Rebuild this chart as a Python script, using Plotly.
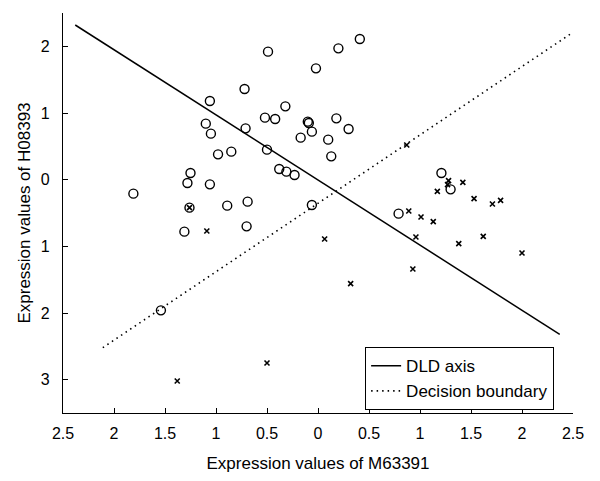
import plotly.graph_objects as go

# Class 1 samples (circles)
circle_x = [-0.49, -0.02, -0.72, -1.06, -0.32, -0.52, -0.42, -0.10, -0.09, -1.10,
            -0.06, -1.05, -0.71, -0.17, 0.10, -0.50, -0.98, -0.85, 0.13, -0.38,
            -0.31, -0.23, -1.25, -1.28, -1.06, -1.81, -1.26, -0.89, -0.69, -0.06,
            -1.31, -0.70, -1.54, 0.41, 0.20, 0.18, 0.30, 1.21, 1.30, 0.79]
circle_y = [1.92, 1.67, 1.36, 1.18, 1.10, 0.93, 0.91, 0.87, 0.85, 0.84,
            0.72, 0.69, 0.77, 0.63, 0.60, 0.45, 0.38, 0.42, 0.35, 0.16,
            0.12, 0.07, 0.10, -0.05, -0.07, -0.21, -0.42, -0.39, -0.33, -0.38,
            -0.78, -0.70, -1.96, 2.11, 1.97, 0.92, 0.76, 0.10, -0.145, -0.51]

# Class 2 samples (crosses)
cross_x = [-1.26, -1.09, 0.065, -0.50, -1.38, 0.87, 1.28, 1.27, 1.42, 1.17,
           1.53, 1.71, 1.79, 0.89, 1.01, 1.13, 0.96, 1.38, 1.62, 2.00,
           0.93, 0.32]
cross_y = [-0.42, -0.77, -0.89, -2.75, -3.02, 0.52, -0.015, -0.075, -0.04, -0.175,
           -0.285, -0.365, -0.31, -0.47, -0.56, -0.63, -0.86, -0.96, -0.85, -1.10,
           -1.34, -1.56]

# Lines
dld_x = [-2.38, 2.37]
dld_y = [2.32, -2.32]
boundary_x = [-2.11, 2.49]
boundary_y = [-2.52, 2.20]

x_ticks = [-2.5, -2, -1.5, -1, -0.5, 0, 0.5, 1, 1.5, 2, 2.5]
x_labels = ["2.5", "2", "1.5", "1", "0.5", "0", "0.5", "1", "1.5", "2", "2.5"]
y_ticks = [-3, -2, -1, 0, 1, 2]
y_labels = ["3", "2", "1", "0", "1", "2"]

FONT = "Liberation Sans, Arial, Helvetica, sans-serif"

fig = go.Figure()
fig.add_trace(go.Scatter(x=circle_x, y=circle_y, mode="markers", showlegend=False,
                         marker=dict(symbol="circle-open", size=9, color="black",
                                     line=dict(width=1.4, color="black"))))
fig.add_trace(go.Scatter(x=cross_x, y=cross_y, mode="markers", showlegend=False,
                         marker=dict(symbol="x-thin-open", size=5, color="black",
                                     line=dict(width=1.6, color="black"))))
fig.add_trace(go.Scatter(x=dld_x, y=dld_y, mode="lines", name="DLD axis",
                         line=dict(color="black", width=1.5)))
fig.add_trace(go.Scatter(x=boundary_x, y=boundary_y, mode="lines", name="Decision boundary",
                         line=dict(color="black", width=1.6, dash="1.5px,4px")))

fig.update_layout(
    width=600, height=481,
    margin=dict(l=63, r=27, t=13, b=68),
    plot_bgcolor="white", paper_bgcolor="white",
    font=dict(family=FONT, size=16, color="black"),
    legend=dict(x=0.592, y=0.165, xanchor="left", yanchor="top",
                bordercolor="black", borderwidth=1.2, bgcolor="white",
                font=dict(size=17), tracegroupgap=0, itemwidth=30),
    showlegend=True,
)
fig.update_xaxes(range=[-2.5, 2.5], tickvals=x_ticks, ticktext=x_labels,
                 showgrid=False, zeroline=False, showline=True, linecolor="black",
                 linewidth=1.2, ticks="inside", ticklen=5, tickcolor="black",
                 tickfont=dict(size=16), automargin=False, ticklabelstandoff=6,
                 title=dict(text="Expression values of M63391", font=dict(size=17), standoff=15))
fig.update_yaxes(range=[-3.5, 2.5], tickvals=y_ticks, ticktext=y_labels,
                 showgrid=False, zeroline=False, showline=True, linecolor="black",
                 linewidth=1.2, ticks="inside", ticklen=5, tickcolor="black",
                 tickfont=dict(size=16), automargin=False, ticklabelstandoff=9,
                 title=dict(text="Expression values of H08393", font=dict(size=17), standoff=5))

fig.write_html("out.html", config={"displayModeBar": False},
               post_script="document.body.style.margin='0px';")
